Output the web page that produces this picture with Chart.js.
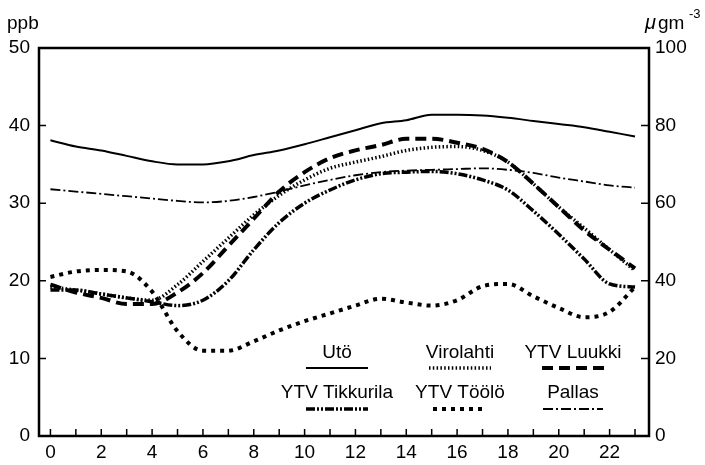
<!DOCTYPE html>
<html><head><meta charset="utf-8">
<script src="https://cdn.jsdelivr.net/npm/chart.js@4/dist/chart.umd.min.js"></script>
<style>html,body{margin:0;padding:0;background:#fff}#wrap{width:705px;height:465px;position:relative}</style>
</head><body><div id="wrap"><canvas id="c" width="705" height="465"></canvas></div>
<script>
const hours = [0,1,2,3,4,5,6,7,8,9,10,11,12,13,14,15,16,17,18,19,20,21,22,23];
const uto        = [38.1,37.3,36.8,36.1,35.4,35.0,35.0,35.4,36.2,36.8,37.6,38.5,39.4,40.3,40.7,41.4,41.4,41.3,41.0,40.6,40.2,39.8,39.2,38.6];
const virolahti  = [19.2,18.8,18.3,17.8,17.5,19.5,22.5,25.5,28.5,31.0,33.0,34.5,35.3,36.0,36.8,37.2,37.3,36.8,35.3,32.5,29.5,26.8,24.0,21.3];
const luukki     = [19.5,18.5,17.8,17.0,17.0,18.5,21.0,24.5,28.0,31.5,34.0,35.8,36.8,37.5,38.3,38.3,37.8,37.0,35.3,32.5,29.5,26.5,24.0,21.6];
const tikkurila  = [18.8,18.8,18.3,17.8,17.3,16.8,17.5,20.0,24.0,27.5,30.0,31.7,33.0,33.8,34.0,34.1,33.8,33.0,31.7,29.0,26.0,22.8,19.6,19.2];
const toolo      = [20.5,21.2,21.4,21.2,18.6,13.5,11.0,11.0,12.2,13.6,14.8,15.8,16.8,17.7,17.2,16.8,17.5,19.3,19.6,18.0,16.5,15.3,16.0,19.2];
const pallas     = [31.8,31.5,31.2,30.9,30.6,30.3,30.1,30.3,30.8,31.5,32.3,33.0,33.6,34.0,34.2,34.3,34.4,34.5,34.3,33.9,33.3,32.8,32.3,32.0];
const seriesNames = ['Utö','Virolahti','YTV Luukki','YTV Tikkurila','YTV Töölö','Pallas'];
const xTickLabels = ['0','2','4','6','8','10','12','14','16','18','20','22'];
const leftTicks  = [0,10,20,30,40,50];
const rightTicks = [0,20,40,60,80,100];
const leftUnit = 'ppb';
const rightUnit = ['μ','gm','-3'];

const FONT = '"Liberation Sans", Arial, Helvetica, sans-serif';

const styles = [
  {w:2,   dash:[]},
  {w:3.5, dash:[1.5,2.3]},
  {w:4,   dash:[11,6]},
  {w:3.5, dash:[9,2,2,2,2,2]},
  {w:4,   dash:[4,5]},
  {w:1.8, dash:[10,3,2,3]}
];
const seriesData = [uto, virolahti, luukki, tikkurila, toolo, pallas];

const datasets = seriesData.map((arr,i)=>({
  label: seriesNames[i],
  data: hours.map((h,j)=>({x:h,y:arr[j]})),
  borderColor:'#000',
  borderWidth: styles[i].w,
  borderDash: styles[i].dash,
  borderCapStyle:'butt',
  pointRadius:0,
  fill:false,
  tension:0.4,
  cubicInterpolationMode:'monotone',
  yAxisID:'y'
}));

const framePlugin = {
  id:'frame',
  afterDatasetsDraw(chart){
    const ctx = chart.ctx, a = chart.chartArea;
    const sx = chart.scales.x, sy = chart.scales.y, sy1 = chart.scales.y1;
    ctx.save();
    ctx.strokeStyle='#000';
    ctx.setLineDash([]);
    ctx.lineWidth = 1.5;
    // inward ticks
    ctx.beginPath();
    hours.forEach(h=>{ const px = sx.getPixelForValue(h); ctx.moveTo(px,a.bottom); ctx.lineTo(px,a.bottom-7); });
    leftTicks.forEach(v=>{ const py = sy.getPixelForValue(v); ctx.moveTo(a.left,py); ctx.lineTo(a.left+7,py); });
    rightTicks.forEach(v=>{ const py = sy1.getPixelForValue(v); ctx.moveTo(a.right,py); ctx.lineTo(a.right-8,py); });
    ctx.stroke();
    ctx.lineWidth = 2.5;
    ctx.strokeRect(a.left,a.top,a.right-a.left,a.bottom-a.top);
    // unit labels
    ctx.fillStyle='#000';
    ctx.textBaseline='alphabetic';
    ctx.textAlign='left';
    ctx.font = '19px '+FONT;
    ctx.fillText(leftUnit, 7, 29);
    ctx.font = 'italic 20px '+FONT;
    ctx.fillText(rightUnit[0], 645, 29);
    ctx.font = '19px '+FONT;
    ctx.fillText(rightUnit[1], 658, 29);
    ctx.font = '13px '+FONT;
    ctx.fillText(rightUnit[2], 689, 18);
    // legend
    const cols = [a.left+298, a.left+421, a.left+534];
    const rowsText = [a.top+305, a.top+345];
    const rowsLine = [a.top+320, a.top+361];
    const halfW = [31,31,31,31,27,30];
    chart.data.datasets.forEach((ds,i)=>{
      const c = cols[i%3], r = Math.floor(i/3);
      ctx.font = '19px '+FONT;
      ctx.textAlign='center';
      ctx.textBaseline='middle';
      ctx.fillText(ds.label, c, rowsText[r]);
      ctx.beginPath();
      ctx.lineWidth = ds.borderWidth;
      ctx.setLineDash(ds.borderDash);
      ctx.moveTo(c-halfW[i], rowsLine[r]);
      ctx.lineTo(c+halfW[i], rowsLine[r]);
      ctx.stroke();
    });
    ctx.restore();
  }
};

new Chart(document.getElementById('c'), {
  type:'line',
  data:{datasets},
  options:{
    responsive:false,
    devicePixelRatio:1,
    animation:false,
    layout:{padding:{top:48,left:0,right:0,bottom:0}},
    plugins:{legend:{display:false},tooltip:{enabled:false}},
    scales:{
      x:{
        type:'linear', min:-0.45, max:23.55, position:'bottom',
        grid:{display:false, drawTicks:false}, border:{display:false},
        afterBuildTicks(s){ s.ticks = hours.map(v=>({value:v})); },
        ticks:{autoSkip:false, maxRotation:0, padding:5, color:'#000', font:{family:FONT,size:19},
          callback(v){ return xTickLabels.includes(String(v)) ? String(v) : ''; }},
        afterFit(s){ s.height = 29; }
      },
      y:{
        type:'linear', min:0, max:50, position:'left',
        grid:{display:false, drawTicks:false}, border:{display:false},
        afterBuildTicks(s){ s.ticks = leftTicks.map(v=>({value:v})); },
        ticks:{padding:9, color:'#000', font:{family:FONT,size:19}},
        afterFit(s){ s.width = 39; }
      },
      y1:{
        type:'linear', min:0, max:100, position:'right',
        grid:{display:false, drawTicks:false}, border:{display:false},
        afterBuildTicks(s){ s.ticks = rightTicks.map(v=>({value:v})); },
        ticks:{padding:6, color:'#000', font:{family:FONT,size:19}},
        afterFit(s){ s.width = 56; }
      }
    }
  },
  plugins:[framePlugin]
});
</script></body></html>
